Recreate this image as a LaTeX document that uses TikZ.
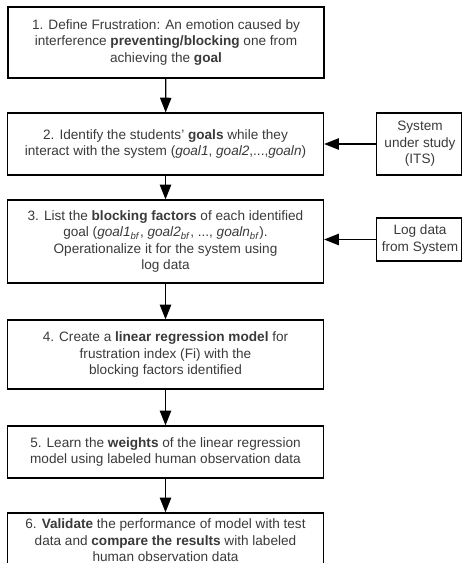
\documentclass[tikz,border=0pt]{standalone}
\usepackage{fontspec}
\setmainfont{Liberation Sans}
\usetikzlibrary{arrows.meta}
\definecolor{txt}{HTML}{3A3A3A}
\tikzset{
  box/.style={draw=black, line width=0.9pt, inner sep=0pt, align=center,
    text=txt, font=\fontsize{10.2pt}{12.4pt}\selectfont, minimum width=237pt},
  sidebox/.style={draw=black, line width=0.9pt, inner sep=0pt, anchor=west,
    minimum width=63.9pt},
  sidetext/.style={inner sep=0pt, align=center, text=txt,
    font=\fontsize{10.2pt}{12.4pt}\selectfont},
  flow/.style={line width=0.9pt, -{Triangle[length=11pt,width=8.5pt]}}
}
\begin{document}
\begin{tikzpicture}[x=0.75pt,y=-0.75pt]
\useasboundingbox (0,0) rectangle (462,563);
% the last step is cut off by the lower page edge
\clip (0,0) rectangle (462,563);
\node[box, minimum height=53.25pt] (s1) at (166,42.5)
  {1. Define Frustration: An emotion caused by\\interference \textbf{preventing/blocking} one from\\achieving the \textbf{goal}};
\node[box, minimum height=46.5pt] (s2) at (165.5,144)
  {2. Identify the students' \textbf{goals} while they\\interact with the system (\textit{goal1}, \textit{goal2},...,\textit{goaln})};
\node[box, minimum height=62.25pt] (s3) at (165.5,241.5)
  {3. List the \textbf{blocking factors} of each identified\\goal (\textit{goal1}\textsubscript{\textit{bf}}, \textit{goal2}\textsubscript{\textit{bf}}, ..., \textit{goaln}\textsubscript{\textit{bf}}).\\Operationalize it for the system using\\log data};
\node[box, minimum height=51.75pt] (s4) at (165.5,354.5)
  {4. Create a \textbf{linear regression model} for\\frustration index (Fi) with the\\blocking factors identified};
\node[box, minimum height=39pt] (s5) at (165.5,452)
  {5. Learn the \textbf{weights} of the linear regression\\model using labeled human observation data};
\node[box, minimum height=41.25pt] (s6) at (165.5,540.5)
  {6. \textbf{Validate} the performance of model with test\\data and \textbf{compare the results} with labeled\\human observation data};
% side inputs
\node[sidebox, minimum height=46.5pt] (sys) at (376,144) {};
\node[sidetext] (systxt) at (420,144) {System\\under study\\(ITS)};
\node[sidebox, minimum height=32.25pt] (log) at (376,239.5) {};
\node[sidetext] (logtxt) at (420,239.5) {Log data\\from System};
\draw[flow] (s1) -- (s2);
\draw[flow] (s2) -- (s3);
\draw[flow] (s3) -- (s4);
\draw[flow] (s4) -- (s5);
\draw[flow] (s5) -- (s6);
\draw[flow] (sys.west) -- (s2.east|-sys.west);
\draw[flow] (log.west) -- (s3.east|-log.west);
\end{tikzpicture}
\end{document}
